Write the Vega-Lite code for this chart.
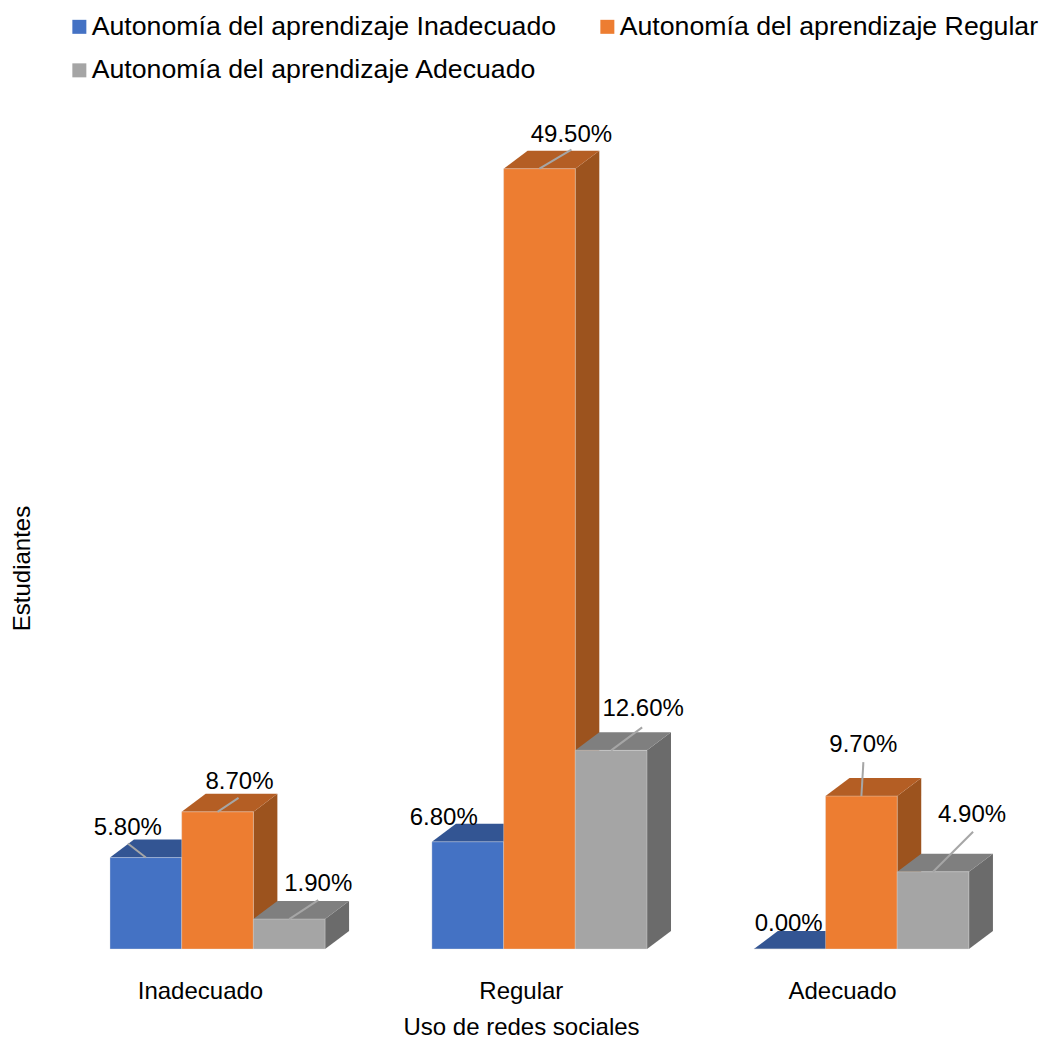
{
"$schema":"https://vega.github.io/schema/vega-lite/v6.json",
"width":1043,"height":949,"autosize":"none",
"padding":{"left":0,"top":0,"right":0,"bottom":88},
"background":"white",
"config":{"view":{"stroke":null},"font":"Liberation Sans","axis":{"grid":false,"domain":false,"ticks":false}},
"data":{"values":[
{"uso":"Inadecuado","autonomia":"Autonomía del aprendizaje Inadecuado","pct":5.8},
{"uso":"Inadecuado","autonomia":"Autonomía del aprendizaje Regular","pct":8.7},
{"uso":"Inadecuado","autonomia":"Autonomía del aprendizaje Adecuado","pct":1.9},
{"uso":"Regular","autonomia":"Autonomía del aprendizaje Inadecuado","pct":6.8},
{"uso":"Regular","autonomia":"Autonomía del aprendizaje Regular","pct":49.5},
{"uso":"Regular","autonomia":"Autonomía del aprendizaje Adecuado","pct":12.6},
{"uso":"Adecuado","autonomia":"Autonomía del aprendizaje Inadecuado","pct":0},
{"uso":"Adecuado","autonomia":"Autonomía del aprendizaje Regular","pct":9.7},
{"uso":"Adecuado","autonomia":"Autonomía del aprendizaje Adecuado","pct":4.9}
]},
"transform":[
{"calculate":"indexof(['Inadecuado','Regular','Adecuado'],datum.uso)","as":"g"},
{"calculate":"indexof(['Autonomía del aprendizaje Inadecuado','Autonomía del aprendizaje Regular','Autonomía del aprendizaje Adecuado'],datum.autonomia)","as":"s"},
{"calculate":"datum.g*3+datum.s","as":"i"},
{"calculate":"datum.g*4.49+datum.s","as":"x0"},
{"calculate":"datum.x0+1","as":"x1"},
{"calculate":"format(datum.pct,'.2f')+'%'","as":"etiqueta"},
{"calculate":"datum.x0+0.5+[-18,22,29,-24,32,32,-1,2,39][datum.i]/71.7","as":"lx"},
{"calculate":"datum.pct-[-31,-31,-36,-25,-35,-42,-26,-52,-58][datum.i]/15.76","as":"ly"},
{"calculate":"datum.x0+0.5","as":"cx"},
{"calculate":"datum.x0+0.5+[-18,21,29,0,32,31,0,2,40][datum.i]/71.7","as":"ex"},
{"calculate":"datum.pct-[-14,-14,-19,0,-19,-23,0,-34,-40][datum.i]/15.76","as":"ey"},
{"calculate":"[0,1]","as":"t"},
{"flatten":["t"]},
{"calculate":"datum.x1+datum.t*0.3347","as":"sx"},
{"calculate":"datum.pct+datum.t*1.142","as":"sy"},
{"calculate":"datum.t*1.142","as":"sy2"},
{"calculate":"datum.x0+datum.t*0.3347","as":"tx"}
],
"layer":[
{"transform":[{"filter":"datum.s==0"}],"mark":{"type":"area","color":"#2F5597","orient":"vertical"},"encoding":{"x":{"field":"sx","type":"quantitative","scale":{"domain":[-1.534,13.013],"nice":false,"zero":false}},"y":{"field":"sy","type":"quantitative","scale":{"domain":[0,60.2],"nice":false}},"y2":{"field":"sy2"},"detail":{"field":"uso"}}},
{"transform":[{"filter":"datum.s==0"},{"calculate":"datum.tx+1","as":"tx2"}],"mark":{"type":"area","color":"#335593","orient":"horizontal"},"encoding":{"y":{"field":"sy","type":"quantitative","scale":{"domain":[0,60.2],"nice":false}},"x":{"field":"tx","type":"quantitative","scale":{"domain":[-1.534,13.013],"nice":false,"zero":false}},"x2":{"field":"tx2"},"detail":{"field":"uso"}}},
{"transform":[{"filter":"datum.s==0&&datum.t==0"}],"mark":{"type":"rect","stroke":"#e4e4e4","strokeOpacity":0.35,"strokeWidth":1},"encoding":{"x":{"field":"x0","type":"quantitative","scale":{"domain":[-1.534,13.013],"nice":false,"zero":false},"axis":{"values":[1.255,5.73,10.21],"labelExpr":"datum.value<3?'Inadecuado':datum.value<8?'Regular':'Adecuado'","domain":false,"ticks":false,"grid":false,"labelFontSize":24,"labelColor":"#000000","labelPadding":30,"labelBaseline":"top","title":"Uso de redes sociales","titleFontSize":24,"titleFontWeight":"normal","titleColor":"#000000","titleX":521,"titleY":78,"titleBaseline":"middle"}},"x2":{"field":"x1"},"y":{"field":"pct","type":"quantitative","scale":{"domain":[0,60.2],"nice":false},"axis":{"domain":false,"ticks":false,"labels":false,"grid":false,"title":"Estudiantes","titleFontSize":24,"titleFontWeight":"normal","titleColor":"#000000","titleX":22,"titleY":568,"titleAngle":-90,"titleBaseline":"middle"}},"y2":{"datum":0},"color":{"field":"autonomia","type":"nominal","scale":{"domain":["Autonomía del aprendizaje Inadecuado","Autonomía del aprendizaje Regular","Autonomía del aprendizaje Adecuado"],"range":["#4472C4","#ED7D31","#A5A5A5"]},"legend":{"title":null,"orient":"none","legendX":66,"legendY":13,"columns":2,"direction":"horizontal","symbolType":"square","symbolSize":196,"symbolStrokeWidth":0,"labelFontSize":26.7,"labelColor":"#000000","labelLimit":700,"labelOffset":-1,"columnPadding":37,"rowPadding":16}}}},
{"transform":[{"filter":"datum.s==1"}],"mark":{"type":"area","color":"#9C531E","orient":"vertical"},"encoding":{"x":{"field":"sx","type":"quantitative","scale":{"domain":[-1.534,13.013],"nice":false,"zero":false}},"y":{"field":"sy","type":"quantitative","scale":{"domain":[0,60.2],"nice":false}},"y2":{"field":"sy2"},"detail":{"field":"uso"}}},
{"transform":[{"filter":"datum.s==1"},{"calculate":"datum.tx+1","as":"tx2"}],"mark":{"type":"area","color":"#B45E24","orient":"horizontal"},"encoding":{"y":{"field":"sy","type":"quantitative","scale":{"domain":[0,60.2],"nice":false}},"x":{"field":"tx","type":"quantitative","scale":{"domain":[-1.534,13.013],"nice":false,"zero":false}},"x2":{"field":"tx2"},"detail":{"field":"uso"}}},
{"transform":[{"filter":"datum.s==1&&datum.t==0"}],"mark":{"type":"rect","stroke":"#e4e4e4","strokeOpacity":0.35,"strokeWidth":1},"encoding":{"x":{"field":"x0","type":"quantitative","scale":{"domain":[-1.534,13.013],"nice":false,"zero":false}},"x2":{"field":"x1"},"y":{"field":"pct","type":"quantitative","scale":{"domain":[0,60.2],"nice":false}},"y2":{"datum":0},"color":{"field":"autonomia","type":"nominal","scale":{"domain":["Autonomía del aprendizaje Inadecuado","Autonomía del aprendizaje Regular","Autonomía del aprendizaje Adecuado"],"range":["#4472C4","#ED7D31","#A5A5A5"]}}}},
{"transform":[{"filter":"datum.s==2"}],"mark":{"type":"area","color":"#6B6B6B","orient":"vertical"},"encoding":{"x":{"field":"sx","type":"quantitative","scale":{"domain":[-1.534,13.013],"nice":false,"zero":false}},"y":{"field":"sy","type":"quantitative","scale":{"domain":[0,60.2],"nice":false}},"y2":{"field":"sy2"},"detail":{"field":"uso"}}},
{"transform":[{"filter":"datum.s==2"},{"calculate":"datum.tx+1","as":"tx2"}],"mark":{"type":"area","color":"#7F7F7F","orient":"horizontal"},"encoding":{"y":{"field":"sy","type":"quantitative","scale":{"domain":[0,60.2],"nice":false}},"x":{"field":"tx","type":"quantitative","scale":{"domain":[-1.534,13.013],"nice":false,"zero":false}},"x2":{"field":"tx2"},"detail":{"field":"uso"}}},
{"transform":[{"filter":"datum.s==2&&datum.t==0"}],"mark":{"type":"rect","stroke":"#e4e4e4","strokeOpacity":0.35,"strokeWidth":1},"encoding":{"x":{"field":"x0","type":"quantitative","scale":{"domain":[-1.534,13.013],"nice":false,"zero":false}},"x2":{"field":"x1"},"y":{"field":"pct","type":"quantitative","scale":{"domain":[0,60.2],"nice":false}},"y2":{"datum":0},"color":{"field":"autonomia","type":"nominal","scale":{"domain":["Autonomía del aprendizaje Inadecuado","Autonomía del aprendizaje Regular","Autonomía del aprendizaje Adecuado"],"range":["#4472C4","#ED7D31","#A5A5A5"]}}}},
{"transform":[{"filter":"datum.t==0&&datum.i!=3&&datum.i!=6"}],"mark":{"type":"rule","color":"#A6A6A6","strokeWidth":2},"encoding":{"x":{"field":"cx","type":"quantitative","scale":{"domain":[-1.534,13.013],"nice":false,"zero":false}},"x2":{"field":"ex"},"y":{"field":"pct","type":"quantitative","scale":{"domain":[0,60.2],"nice":false}},"y2":{"field":"ey"}}},
{"transform":[{"filter":"datum.t==0"}],"mark":{"type":"text","fontSize":24,"dy":1,"color":"#000000","align":"center","baseline":"middle"},"encoding":{"x":{"field":"lx","type":"quantitative","scale":{"domain":[-1.534,13.013],"nice":false,"zero":false}},"y":{"field":"ly","type":"quantitative","scale":{"domain":[0,60.2],"nice":false}},"text":{"field":"etiqueta","type":"nominal"}}}
]
}
